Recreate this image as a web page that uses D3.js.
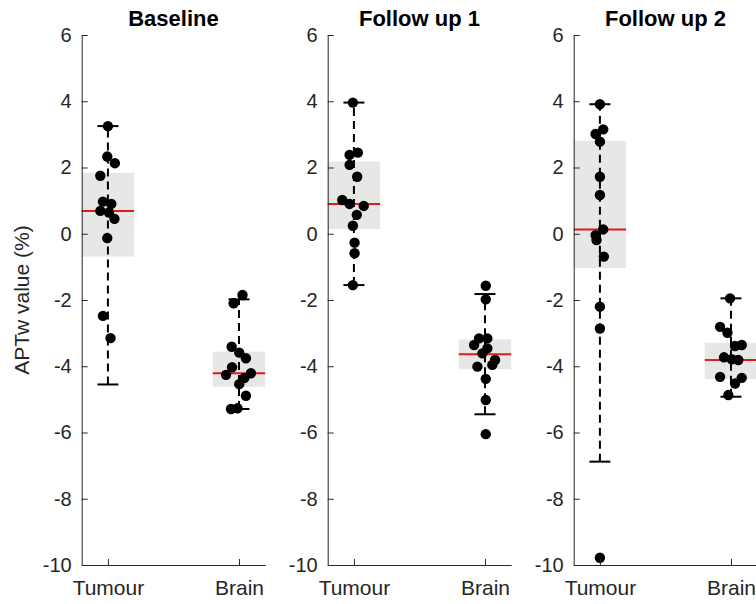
<!DOCTYPE html>
<html>
<head>
<meta charset="utf-8">
<script src="https://cdn.jsdelivr.net/npm/d3@7"></script>
<style>
  html, body { margin: 0; padding: 0; background: #ffffff; }
  svg { display: block; font-family: "Liberation Sans", Arial, Helvetica, sans-serif; }
</style>
</head>
<body>
<svg id="chart" width="756" height="604"></svg>
<script>
// APTw values per time point, tumour vs. normal-appearing brain
const titles = ["Baseline", "Follow up 1", "Follow up 2"];
const groups = ["Tumour", "Brain"];
const yTicks = [6, 4, 2, 0, -2, -4, -6, -8, -10];

const tumourValues = [
  [3.25, 2.33, 2.13, 1.75, 0.97, 0.90, 0.69, 0.64, 0.45, -0.13, -2.48, -3.15],
  [3.96, 2.38, 2.45, 2.08, 1.72, 1.02, 0.90, 0.84, 0.57, 0.24, -0.27, -0.59, -1.55],
  [3.91, 3.15, 3.01, 2.78, 1.72, 1.17, 0.13, -0.04, -0.19, -0.69, -2.20, -2.86, -9.78]
];
// horizontal jitter of each point, in category units
const tumourJitter = [
  [0, -0.005, 0.053, -0.058, -0.038, 0.026, -0.058, 0.008, 0.05, -0.005, -0.038, 0.02],
  [-0.008, -0.033, 0.03, -0.033, 0.025, -0.089, -0.033, 0.075, 0.022, -0.008, 0.005, 0.005, -0.008],
  [0, 0.025, -0.033, 0, 0, 0, 0.025, -0.033, -0.026, 0.03, 0, 0, 0]
];

const brainValues = [
  [-1.85, -2.10, -3.41, -3.59, -3.76, -4.03, -4.26, -4.21, -4.36, -4.54, -4.89, -5.29, -5.27],
  [-1.57, -1.98, -3.16, -3.16, -3.36, -3.46, -3.61, -3.81, -3.96, -4.01, -4.38, -5.02, -6.05],
  [-1.95, -2.81, -2.99, -3.39, -3.36, -3.73, -3.79, -3.81, -4.32, -4.35, -4.52, -4.87]
];
const brainJitter = [
  [0.027, -0.041, -0.056, 0.002, 0.053, -0.053, -0.099, 0.091, 0.04, 0.002, 0.053, -0.061, -0.011],
  [0.006, 0.006, -0.045, 0.018, -0.083, 0.018, -0.02, 0.077, 0.056, -0.058, 0.006, 0.006, 0.006],
  [-0.007, -0.083, -0.027, 0.031, 0.082, -0.053, 0.006, 0.056, -0.083, 0.082, 0.031, -0.02]
];

// box summaries per panel: [Tumour, Brain]
const medians     = [[0.69, -4.21], [0.90, -3.64], [0.13, -3.81]];
const boxLow      = [[-0.69, -4.62], [0.14, -4.09], [-1.04, -4.39]];
const boxHigh     = [[1.84, -3.56], [2.18, -3.19], [2.81, -3.29]];
const whiskerLow  = [[-4.55, -5.29], [-1.55, -5.45], [-6.88, -4.92]];
const whiskerHigh = [[3.25, -1.98], [3.96, -1.82], [3.91, -1.95]];

const axisColor = "#262626";
const svg = d3.select("#chart");

const panelLeft0 = 81.7, panelStep = 246, panelWidth = 183.5;
const plotTop = 35, plotBottom = 565;
const boxHalf = 0.2, capHalf = 0.08;

const y = d3.scaleLinear().domain([-10, 6]).range([plotBottom, plotTop]);

titles.forEach((title, p) => {
  const left = panelLeft0 + p * panelStep;
  const x = d3.scaleLinear().domain([0.8, 2.2]).range([left, left + panelWidth]);
  const g = svg.append("g");

  const values = [tumourValues[p], brainValues[p]];
  const jitter = [tumourJitter[p], brainJitter[p]];

  groups.forEach((name, k) => {
    const c = k + 1;
    // interquartile box
    g.append("rect")
      .attr("x", x(c - boxHalf))
      .attr("y", y(boxHigh[p][k]))
      .attr("width", x(c + boxHalf) - x(c - boxHalf))
      .attr("height", y(boxLow[p][k]) - y(boxHigh[p][k]))
      .attr("fill", "#e6e8e6");
    // dashed whisker
    g.append("line")
      .attr("x1", x(c)).attr("x2", x(c))
      .attr("y1", y(whiskerLow[p][k])).attr("y2", y(whiskerHigh[p][k]))
      .attr("stroke", "#000").attr("stroke-width", 2)
      .attr("stroke-dasharray", "8,5");
    // caps
    [whiskerLow[p][k], whiskerHigh[p][k]].forEach(v => {
      g.append("line")
        .attr("x1", x(c - capHalf)).attr("x2", x(c + capHalf))
        .attr("y1", y(v)).attr("y2", y(v))
        .attr("stroke", "#000").attr("stroke-width", 2);
    });
    // median
    g.append("line")
      .attr("x1", x(c - boxHalf)).attr("x2", x(c + boxHalf))
      .attr("y1", y(medians[p][k])).attr("y2", y(medians[p][k]))
      .attr("stroke", "#e3191e").attr("stroke-width", 2);
    // individual subjects
    g.selectAll(null)
      .data(values[k].map((v, i) => ({ v, j: jitter[k][i] })))
      .enter().append("circle")
      .attr("cx", d => x(c + d.j))
      .attr("cy", d => y(d.v))
      .attr("r", 5.2)
      .attr("fill", "#000");
  });

  // axes
  const yAxis = d3.axisLeft(y).tickValues(yTicks).tickFormat(d => String(d))
    .tickSizeInner(-6).tickSizeOuter(0).tickPadding(10);
  const ya = g.append("g").attr("transform", `translate(${left},0)`).call(yAxis);

  const xAxis = d3.axisBottom(x).tickValues([1, 2]).tickFormat((d, i) => groups[i])
    .tickSizeInner(-6).tickSizeOuter(0).tickPadding(15);
  const xa = g.append("g").attr("transform", `translate(0,${plotBottom})`).call(xAxis);

  [ya, xa].forEach(a => {
    a.select(".domain").attr("stroke", axisColor).attr("stroke-width", 1);
    a.selectAll(".tick line").attr("stroke", axisColor);
    a.selectAll(".tick text").attr("fill", axisColor).attr("font-size", 20)
      .attr("font-family", "'Liberation Sans', Arial, sans-serif");
  });
  xa.selectAll(".tick text").attr("font-size", 21);

  // panel title
  g.append("text")
    .attr("x", left + panelWidth / 2)
    .attr("y", 26)
    .attr("text-anchor", "middle")
    .attr("font-size", 22)
    .attr("font-weight", "bold")
    .attr("fill", "#000")
    .text(title);
});

// y-axis label
svg.append("text")
  .attr("transform", `translate(29,${(plotTop + plotBottom) / 2}) rotate(-90)`)
  .attr("text-anchor", "middle")
  .attr("font-size", 21)
  .attr("fill", axisColor)
  .text("APTw value (%)");
</script>
</body>
</html>
